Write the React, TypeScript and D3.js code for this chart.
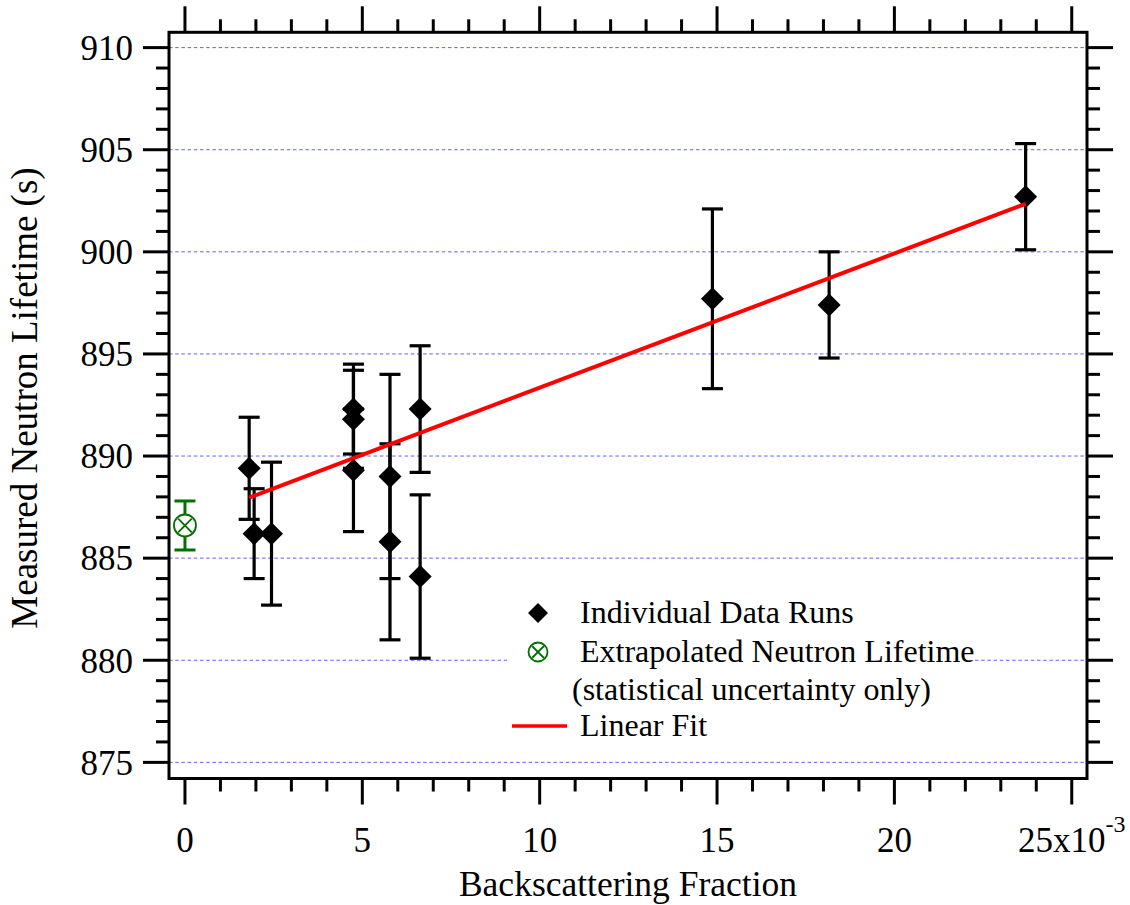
import React from "react";
import * as d3 from "d3";

// ---- data ----
const runX: number[] = [1.81, 1.95, 2.44, 4.75, 4.75, 4.75, 5.78, 5.78, 6.63, 6.63, 14.87, 18.16, 23.7];
const runY: number[] = [889.4, 886.2, 886.2, 892.3, 891.8, 889.3, 889.0, 885.8, 892.3, 884.1, 897.7, 897.4, 902.7];
const runErr: number[] = [2.5, 2.2, 3.5, 2.2, 2.4, 3.0, 5.0, 4.8, 3.1, 4.0, 4.4, 2.6, 2.6];

const extrapX: number[] = [0];
const extrapY: number[] = [886.6];
const extrapErr: number[] = [1.2];

const fitIntercept = 886.77;
const fitSlope = 0.6575;

const yMajorTicks: number[] = [875, 880, 885, 890, 895, 900, 905, 910];
const xMajorTicks: number[] = [0, 5, 10, 15, 20, 25];

const legendLabels: string[] = [
  "Individual Data Runs",
  "Extrapolated Neutron Lifetime",
  "(statistical uncertainty only)",
  "Linear Fit",
];

const xTitle = "Backscattering Fraction";
const yTitle = "Measured Neutron Lifetime (s)";

// ---- layout ----
const W = 1130;
const H = 905;
const L = 169, R = 1087, T = 32.3, B = 778.5;
const FONT = "'Liberation Serif', 'Times New Roman', serif";

export default function App() {
  const x = d3.scaleLinear().domain([-0.45, 25.43]).range([L, R]);
  const y = d3.scaleLinear().domain([874.21, 910.75]).range([B, T]);

  const yMinor = d3.range(875, 911, 1).filter((v) => !yMajorTicks.includes(v));
  const xMinor = d3.range(0, 26, 1).filter((v) => !xMajorTicks.includes(v));

  const MAJ = 26, MIN = 13;
  const tickStroke = { stroke: "#000", strokeWidth: 3 };

  const fitX0 = d3.min(runX) as number;
  const fitX1 = d3.max(runX) as number;
  const line = d3
    .line<number>()
    .x((d) => x(d))
    .y((d) => y(fitIntercept + fitSlope * d));

  const capHalf = 10.5;
  const dSize = 11.5; // half diagonal

  const diamondPath = (h: number) => `M0,${-h}L${h},0L0,${h}L${-h},0Z`;

  return (
    <svg
      width={W}
      height={H}
      style={{ position: "absolute", left: 0, top: 0, background: "#fff" }}
      fontFamily={FONT}
    >
      <rect x={0} y={0} width={W} height={H} fill="#fff" />
      {/* gridlines */}
      {yMajorTicks.map((v) => (
        <line
          key={"g" + v}
          x1={L}
          x2={R}
          y1={y(v)}
          y2={y(v)}
          stroke="#6060ff"
          strokeWidth={1}
          strokeDasharray="3.5,2.7"
        />
      ))}

      {/* legend background */}
      <rect x={507} y={592} width={466} height={152} fill="#fff" />

      {/* y ticks left & right */}
      {yMajorTicks.map((v) => (
        <g key={"ym" + v}>
          <line x1={L - MAJ} x2={L} y1={y(v)} y2={y(v)} {...tickStroke} />
          <line x1={R} x2={R + MAJ} y1={y(v)} y2={y(v)} {...tickStroke} />
          <text
            x={133}
            y={y(v)}
            dy="0.35em"
            textAnchor="end"
            fontSize={35}
            fill="#000"
          >
            {v}
          </text>
        </g>
      ))}
      {yMinor.map((v) => (
        <g key={"yn" + v}>
          <line x1={L - MIN} x2={L} y1={y(v)} y2={y(v)} {...tickStroke} />
          <line x1={R} x2={R + MIN} y1={y(v)} y2={y(v)} {...tickStroke} />
        </g>
      ))}

      {/* x ticks top & bottom */}
      {xMajorTicks.map((v) => (
        <g key={"xm" + v}>
          <line x1={x(v)} x2={x(v)} y1={T} y2={T - MAJ} {...tickStroke} />
          <line x1={x(v)} x2={x(v)} y1={B} y2={B + MAJ} {...tickStroke} />
          {v === 25 ? (
            <text x={x(v)} y={852} textAnchor="middle" fontSize={35} fill="#000">
              {v}x10
              <tspan dy={-20} fontSize={24}>
                -3
              </tspan>
            </text>
          ) : (
            <text x={x(v)} y={852} textAnchor="middle" fontSize={35} fill="#000">
              {v}
            </text>
          )}
        </g>
      ))}
      {xMinor.map((v) => (
        <g key={"xn" + v}>
          <line x1={x(v)} x2={x(v)} y1={T} y2={T - MIN} {...tickStroke} />
          <line x1={x(v)} x2={x(v)} y1={B} y2={B + MIN} {...tickStroke} />
        </g>
      ))}

      {/* frame */}
      <rect
        x={L}
        y={T}
        width={R - L}
        height={B - T}
        fill="none"
        stroke="#000"
        strokeWidth={3}
      />

      {/* titles */}
      <text x={628} y={896} textAnchor="middle" fontSize={35.5} fill="#000">
        {xTitle}
      </text>
      <text
        transform={`translate(37,398) rotate(-90)`}
        textAnchor="middle"
        fontSize={37}
        fill="#000"
      >
        {yTitle}
      </text>

      {/* extrapolated point */}
      {extrapX.map((xv, i) => {
        const cx = x(xv);
        const cy = y(extrapY[i]);
        const yt = y(extrapY[i] + extrapErr[i]);
        const yb = y(extrapY[i] - extrapErr[i]);
        const c = "#007000";
        const r = 11;
        const k = r * 0.62;
        return (
          <g key={"e" + i} stroke={c} fill="none">
            <line x1={cx} x2={cx} y1={yt} y2={yb} strokeWidth={3} />
            <line x1={cx - capHalf} x2={cx + capHalf} y1={yt} y2={yt} strokeWidth={3} />
            <line x1={cx - capHalf} x2={cx + capHalf} y1={yb} y2={yb} strokeWidth={3} />
            <circle cx={cx} cy={cy} r={r} fill="#fff" strokeWidth={1.8} />
            <line x1={cx - k} x2={cx + k} y1={cy - k} y2={cy + k} strokeWidth={1.8} />
            <line x1={cx - k} x2={cx + k} y1={cy + k} y2={cy - k} strokeWidth={1.8} />
          </g>
        );
      })}

      {/* error bars */}
      {runX.map((xv, i) => {
        const cx = x(xv);
        const yt = y(runY[i] + runErr[i]);
        const yb = y(runY[i] - runErr[i]);
        return (
          <g key={"eb" + i} stroke="#000" strokeWidth={3.2}>
            <line x1={cx} x2={cx} y1={yt} y2={yb} />
            <line x1={cx - capHalf} x2={cx + capHalf} y1={yt} y2={yt} />
            <line x1={cx - capHalf} x2={cx + capHalf} y1={yb} y2={yb} />
          </g>
        );
      })}
      {/* diamonds */}
      {runX.map((xv, i) => (
        <path
          key={"d" + i}
          d={diamondPath(dSize)}
          transform={`translate(${x(xv)},${y(runY[i])})`}
          fill="#000"
        />
      ))}

      {/* fit line */}
      <path d={line([fitX0, fitX1]) as string} fill="none" stroke="#ff0000" strokeWidth={4} />

      {/* legend */}
      <path d={diamondPath(10)} transform="translate(538,613)" fill="#000" />
      <text x={580} y={623} fontSize={32} fill="#000">
        {legendLabels[0]}
      </text>
      <g stroke="#007000" fill="none" strokeWidth={1.8}>
        <circle cx={538} cy={652} r={9.5} />
        <line x1={532} x2={544} y1={646} y2={658} />
        <line x1={532} x2={544} y1={658} y2={646} />
      </g>
      <text x={580} y={662} fontSize={32} fill="#000">
        {legendLabels[1]}
      </text>
      <text x={572} y={700} fontSize={32} fill="#000">
        {legendLabels[2]}
      </text>
      <line x1={512} x2={567} y1={726} y2={726} stroke="#ff0000" strokeWidth={3.5} />
      <text x={580} y={736} fontSize={32} fill="#000">
        {legendLabels[3]}
      </text>
    </svg>
  );
}
